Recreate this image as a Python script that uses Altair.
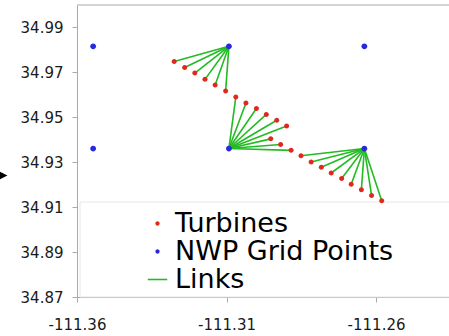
import altair as alt
import pandas as pd

# NWP grid nodes: longitudes (columns) and latitudes (rows)
grid_lon = [-111.3546, -111.3092, -111.2639]
grid_lat = [34.9816, 34.9361]

# Wind turbine locations
turbine_lon = [-111.3275, -111.3240, -111.3206, -111.3172, -111.3138, -111.3103,
               -111.3069, -111.3035, -111.3000, -111.2967, -111.2932, -111.2899,
               -111.2952, -111.2919, -111.2884, -111.2851, -111.2817, -111.2783,
               -111.2750, -111.2715, -111.2683, -111.2649, -111.2615, -111.2581]
turbine_lat = [34.9748, 34.9722, 34.9697, 34.9669, 34.9644, 34.9617,
               34.9590, 34.9564, 34.9539, 34.9513, 34.9487, 34.9461,
               34.9404, 34.9379, 34.9353, 34.9329, 34.9301, 34.9278,
               34.9252, 34.9228, 34.9202, 34.9177, 34.9152, 34.9128]

# Grid node (column index, row index) that each turbine is linked to
link_col = [1, 1, 1, 1, 1, 1,
            1, 1, 1, 1, 1, 1, 1, 1, 1,
            2, 2, 2, 2, 2, 2, 2, 2, 2]
link_row = [0, 0, 0, 0, 0, 0,
            1, 1, 1, 1, 1, 1, 1, 1, 1,
            1, 1, 1, 1, 1, 1, 1, 1, 1]

categories = ["Turbines", "NWP Grid Points", "Links"]
colors = ["#e0281e", "#2828e0", "#22bb22"]

x_ticks = [-111.36, -111.31, -111.26]
y_ticks = [34.87, 34.89, 34.91, 34.93, 34.95, 34.97, 34.99]
x_domain = [-111.36, -111.2356]
y_domain = [34.87, 35.0]

turbines_df = pd.DataFrame({"lon": turbine_lon, "lat": turbine_lat, "kind": "Turbines"})
grid_df = pd.DataFrame(
    [{"lon": lo, "lat": la, "kind": "NWP Grid Points"} for la in grid_lat for lo in grid_lon]
)
links_df = pd.DataFrame({
    "lon": turbine_lon,
    "lat": turbine_lat,
    "lon2": [grid_lon[c] for c in link_col],
    "lat2": [grid_lat[r] for r in link_row],
})

FONT = "DejaVu Sans"
AXIS_GRAY = "#aaaaaa"

# Symbol paths in the unit box: a small dot and a thin horizontal bar
DOT = "M0.22,0A0.22,0.22,0,1,1,-0.22,0A0.22,0.22,0,1,1,0.22,0Z"
BAR = "M-1,-0.08H1V0.08H-1Z"

x_enc = alt.X(
    "lon:Q",
    scale=alt.Scale(domain=x_domain, nice=False, zero=False),
    axis=alt.Axis(
        values=x_ticks, title=None, grid=False, labelFlush=False,
        labelExpr="'-' + format(abs(datum.value), '.2f')",
        labelPadding=15, tickSize=5,
    ),
)
y_enc = alt.Y(
    "lat:Q",
    scale=alt.Scale(domain=y_domain, nice=False, zero=False),
    axis=alt.Axis(
        values=y_ticks, title=None, grid=False, labelFlush=False,
        format=".2f", labelPadding=9, tickSize=5,
    ),
)

legend = alt.Legend(
    title=None,
    orient="none",
    legendX=67,
    legendY=205,
    padding=0,
    labelFont=FONT,
    labelFontSize=27,
    labelColor="#000000",
    labelLimit=400,
    labelOffset=4,
    rowPadding=0,
    symbolSize=380,
    symbolStrokeWidth=0,
    symbolOpacity=1,
)
color_enc = alt.Color("kind:N", scale=alt.Scale(domain=categories, range=colors), legend=legend)
shape_enc = alt.Shape("kind:N", scale=alt.Scale(domain=categories, range=[DOT, DOT, BAR]), legend=legend)

one_row = alt.Data(values=[{}])

# White legend frame with a faint border
frame = alt.Chart(one_row).mark_rect(fill="white", stroke="#e6e6e6", strokeWidth=1).encode(
    x=alt.value(3), x2=alt.value(380), y=alt.value(197), y2=alt.value(292)
)

links = alt.Chart(links_df).mark_rule(strokeWidth=1.6, color=colors[2]).encode(
    x=x_enc, y=y_enc, x2="lon2:Q", y2="lat2:Q"
)

turbines = alt.Chart(turbines_df).mark_point(size=516, filled=True, opacity=1, strokeWidth=0).encode(
    x="lon:Q", y="lat:Q", color=color_enc, shape=shape_enc
)

grid_points = alt.Chart(grid_df).mark_point(size=695, filled=True, opacity=1, strokeWidth=0).encode(
    x="lon:Q", y="lat:Q", color=color_enc, shape=shape_enc
)

# Upper border of the plot frame
top_border = alt.Chart(one_row).mark_rule(color=AXIS_GRAY, strokeWidth=1).encode(
    x=alt.value(0), x2=alt.value(372), y=alt.value(0)
)

# Small pointer marker at the left margin
pointer = alt.Chart(one_row).mark_point(
    shape="M-1,-1L1,0L-1,1Z", filled=True, color="black", size=56, opacity=1, strokeWidth=0
).encode(x=alt.value(-73.3), y=alt.value(170.5))

chart = (
    alt.layer(frame, links, turbines, grid_points, top_border, pointer)
    .properties(
        width=372,
        height=292,
        autosize=alt.AutoSizeParams(type="none"),
        padding={"left": 77, "top": 5, "right": 0, "bottom": 39},
        background="white",
    )
    .configure_view(stroke=None)
    .configure_axis(
        labelFont=FONT,
        labelFontSize=15,
        labelColor="#1a1a1a",
        domainColor=AXIS_GRAY,
        tickColor=AXIS_GRAY,
        domainWidth=1,
        tickWidth=1,
    )
)

chart.save("out.html", embed_options={"renderer": "svg", "actions": False})
